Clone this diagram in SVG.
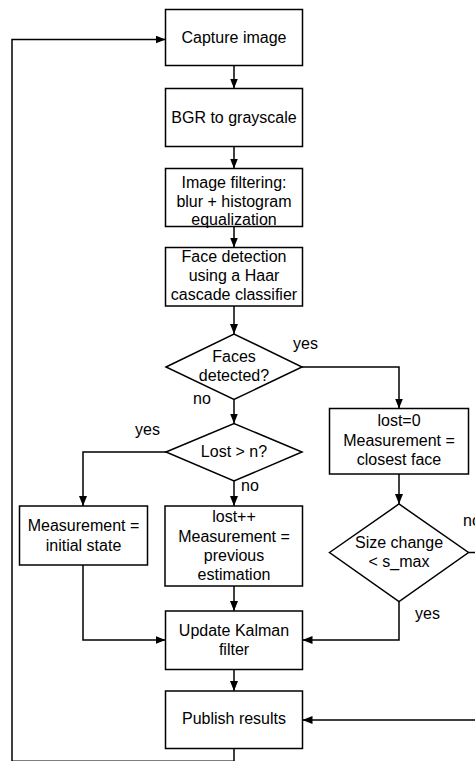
<svg xmlns="http://www.w3.org/2000/svg" width="475" height="761" viewBox="0 0 475 761">
<defs>
<marker id="arr" viewBox="0 0 10 8" refX="10" refY="4" markerWidth="10" markerHeight="8" markerUnits="userSpaceOnUse" orient="auto">
<path d="M0,0 L10,4 L0,8 Z" fill="#000"/>
</marker>
<style>
.n{fill:#fff;stroke:#000;stroke-width:1.5}
.t{font-family:"Liberation Sans",Arial,sans-serif;font-size:16px;fill:#000;text-anchor:middle}
.l{font-family:"Liberation Sans",Arial,sans-serif;font-size:16px;fill:#000}
.c{fill:none;stroke:#000;stroke-width:1.5}
.a{marker-end:url(#arr)}
</style>
</defs>
<rect width="475" height="761" fill="#fff"/>
<g id="connectors">
<polyline class="c a" points="234,748.5 234,761.2 12,761.2 12,39.5 165.5,39.5"/>
<line class="c a" x1="234" y1="65.5" x2="234" y2="88.5"/>
<line class="c a" x1="234" y1="146.5" x2="234" y2="168.5"/>
<line class="c a" x1="234" y1="226.5" x2="234" y2="247.5"/>
<line class="c a" x1="234" y1="306" x2="234" y2="334"/>
<line class="c a" x1="234" y1="399.5" x2="234" y2="423.5"/>
<line class="c a" x1="234" y1="481" x2="234" y2="506"/>
<line class="c a" x1="234" y1="586" x2="234" y2="611"/>
<line class="c a" x1="234" y1="669.5" x2="234" y2="691"/>
<polyline class="c a" points="302,367 399,367 399,408.5"/>
<line class="c a" x1="399" y1="474" x2="399" y2="504"/>
<polyline class="c a" points="166,452 83,452 83,506"/>
<polyline class="c a" points="83,565 83,640 165.5,640"/>
<polyline class="c a" points="399,601.5 399,640 302.5,640"/>
<polyline class="c a" points="468.5,552.5 477,552.5 477,720 302.5,720"/>
<text class="l" x="293" y="349">yes</text>
<text class="l" x="193" y="404">no</text>
<text class="l" x="135" y="435">yes</text>
<text class="l" x="241" y="491">no</text>
<text class="l" x="463" y="526">no</text>
<text class="l" x="415" y="619">yes</text>
</g>
<g id="capture">
<rect class="n" x="165.5" y="9.5" width="137" height="56"/>
<text class="t" x="234" y="43">Capture image</text>
</g>
<g id="bgr">
<rect class="n" x="165.5" y="88.5" width="137" height="58"/>
<text class="t" x="234" y="123">BGR to grayscale</text>
</g>
<g id="filter">
<rect class="n" x="165.5" y="168.5" width="137" height="58"/>
<text class="t" x="234" y="188">Image filtering:</text>
<text class="t" x="234" y="207">blur + histogram</text>
<text class="t" x="234" y="225">equalization</text>
</g>
<g id="facedet">
<rect class="n" x="165.5" y="247.5" width="137" height="58.5"/>
<text class="t" x="234" y="262">Face detection</text>
<text class="t" x="234" y="281">using a Haar</text>
<text class="t" x="234" y="300">cascade classifier</text>
</g>
<g id="faces">
<polygon class="n" points="166,367 234,334 302,367 234,399.5"/>
<text class="t" x="234" y="362">Faces</text>
<text class="t" x="234" y="381">detected?</text>
</g>
<g id="lostn">
<polygon class="n" points="166,452 234,423.5 302,452 234,481"/>
<text class="t" x="234" y="457">Lost &gt; n?</text>
</g>
<g id="lost0">
<rect class="n" x="329.5" y="408.5" width="139" height="65.5"/>
<text class="t" x="399" y="426">lost=0</text>
<text class="t" x="399" y="446">Measurement =</text>
<text class="t" x="399" y="465">closest face</text>
</g>
<g id="sizechange">
<polygon class="n" points="329.5,552.5 399,504 468.5,552.5 399,601.5"/>
<text class="t" x="399" y="548">Size change</text>
<text class="t" x="399" y="567">&lt; s_max</text>
</g>
<g id="init">
<rect class="n" x="19.5" y="506" width="128" height="59"/>
<text class="t" x="83.5" y="531">Measurement =</text>
<text class="t" x="83.5" y="551">initial state</text>
</g>
<g id="lostpp">
<rect class="n" x="165" y="506" width="137.5" height="80"/>
<text class="t" x="234" y="522">lost++</text>
<text class="t" x="234" y="542">Measurement =</text>
<text class="t" x="234" y="561">previous</text>
<text class="t" x="234" y="580">estimation</text>
</g>
<g id="kalman">
<rect class="n" x="165.5" y="611" width="137" height="58.5"/>
<text class="t" x="234" y="636">Update Kalman</text>
<text class="t" x="234" y="655">filter</text>
</g>
<g id="publish">
<rect class="n" x="165.5" y="691" width="137" height="57.5"/>
<text class="t" x="234" y="724">Publish results</text>
</g>
</svg>
